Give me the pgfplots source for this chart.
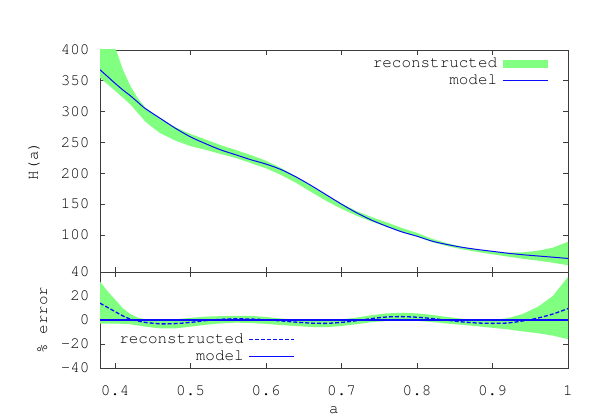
\documentclass[border=0pt]{standalone}
\usepackage{pgfplots}
\pgfplotsset{compat=1.18}
\usepackage{pgfplotstable}
\usepackage{fontspec}
\setmainfont{TeX Gyre Cursor}
\definecolor{bandgreen}{RGB}{128,255,128}
\definecolor{mblue}{RGB}{10,10,255}
\definecolor{frameclr}{RGB}{60,60,60}

\pgfplotstableread{
a M E
0.38 368 14
0.39 357 10.5
0.40 346 7
0.41 335.5 3.5
0.42 326 0.8
0.43 315.5 -0.8
0.44 305 -2
0.46 289 -3.2
0.48 273 -3
0.50 259 -2
0.52 248 -0.5
0.54 238 0.6
0.56 230 1
0.58 222 0.8
0.60 215 0.2
0.62 206 -0.8
0.64 194 -1.8
0.66 180 -2.6
0.68 165 -2.8
0.70 150 -2
0.72 136 -0.6
0.74 124 1.2
0.76 114 2.5
0.78 105 2.8
0.80 98 2.3
0.82 90 1.2
0.84 84.5 -0.2
0.86 80 -1.6
0.88 76.5 -2.5
0.90 73.5 -2.8
0.92 70.5 -2.5
0.94 68 -0.8
0.96 66 1.6
0.98 64 5
1.00 62 9.5
}\data

% top band: upper edge forward, lower edge backward
\pgfplotstableread{
a H
0.38 485.8
0.39 442.7
0.40 404.8
0.41 369.1
0.42 342.3
0.43 321.8
0.44 306.5
0.46 289.0
0.48 274.6
0.50 263.7
0.52 254.9
0.54 245.6
0.56 237.8
0.58 229.5
0.60 220.4
0.62 208.5
0.64 194.8
0.66 180.0
0.68 165.0
0.70 150.8
0.72 138.7
0.74 129.0
0.76 120.3
0.78 111.3
0.80 103.4
0.82 93.8
0.84 86.6
0.86 80.8
0.88 76.7
0.90 73.6
0.92 71.5
0.94 71.8
0.96 74.5
0.98 79.5
1.00 89.0
1.00 51.0
0.98 55.0
0.96 58.5
0.94 61.5
0.92 65.0
0.90 68.7
0.88 72.5
0.86 76.8
0.84 82.0
0.82 88.6
0.80 97.2
0.78 104.6
0.76 113.1
0.74 121.8
0.72 131.2
0.70 142.5
0.68 155.1
0.66 169.6
0.64 184.3
0.62 197.3
0.60 208.1
0.58 216.5
0.56 224.9
0.54 231.3
0.52 238.1
0.50 244.0
0.48 253.0
0.46 265.0
0.45 274.0
0.44 284.0
0.43 298.0
0.42 312.0
0.41 323.0
0.40 334.0
0.39 344.5
0.38 355.0
}\topband

% error band: upper edge forward, lower edge backward
\pgfplotstableread{
a E
0.38 32
0.39 24
0.40 17
0.41 10
0.42 5
0.43 2
0.44 0.5
0.46 0
0.48 0.6
0.50 1.8
0.52 2.8
0.54 3.2
0.56 3.4
0.58 3.4
0.60 2.5
0.62 1.2
0.64 0.4
0.66 0
0.68 0
0.70 0.5
0.72 2
0.74 4
0.76 5.5
0.78 6
0.80 5.5
0.82 4.2
0.84 2.5
0.86 1
0.88 0.3
0.90 0.2
0.92 1.5
0.94 5
0.96 11
0.98 20
1.00 36
1.00 -16
0.98 -13
0.96 -11
0.94 -9.5
0.92 -7.8
0.90 -6.5
0.88 -5.2
0.86 -4
0.84 -3
0.82 -1.6
0.80 -0.8
0.78 -0.4
0.76 -0.8
0.74 -1.8
0.72 -3.5
0.70 -5
0.68 -6
0.66 -5.8
0.64 -5
0.62 -4.2
0.60 -3.2
0.58 -2.5
0.56 -2.2
0.54 -2.8
0.52 -4
0.50 -5.5
0.48 -7
0.46 -7
0.44 -5.5
0.43 -4.5
0.42 -3.5
0.41 -3.2
0.40 -3
0.39 -3
0.38 -3
}\errband

\pgfplotsset{
  common/.style={
    scale only axis, width=468bp,
    xmin=0.38, xmax=1,
    xtick={0.4,0.5,0.6,0.7,0.8,0.9,1},
    tick align=inside, major tick length=5bp,
    axis line style={frameclr, line width=0.8bp},
    every tick/.style={frameclr, line width=0.8bp},
    /pgf/number format/assume math mode=true,
    legend plot pos=right, legend cell align=right,
    legend style={draw=none, fill=none, row sep=4bp,
      nodes={inner xsep=5bp, inner ysep=1bp}},
  },
}

\begin{document}
\begin{tikzpicture}[font=\fontsize{16}{19}\selectfont]
\path[use as bounding box] (0,0) rectangle (598bp,419bp);
\begin{axis}[common,
  at={(100bp,147bp)}, anchor=south west, height=222bp,
  ymin=40, ymax=400,
  ytick={40,100,150,200,250,300,350,400},
  yticklabels={40,100,150,200,250,300,350,400},
  xticklabels={},
  yticklabel style={xshift=-7bp},
  ylabel={H(a)},
  ylabel style={at={(axis description cs:-0.141,0.5)}, anchor=center},
  legend style={at={(0.9644,0.978)}, anchor=north east},
]
\addplot[fill=bandgreen, draw=none,
  legend image code/.code={\fill[bandgreen] (4bp,-4bp) rectangle (49bp,4bp);}]
  table[x=a,y=H]{\topband} -- cycle;
\addlegendentry{reconstructed}
\addplot[mblue, line width=1bp, smooth,
  legend image code/.code={\draw[mblue, line width=1bp] (4bp,0bp) -- (49bp,0bp);}]
  table[x=a,y=M]{\data};
\addlegendentry{model}
\end{axis}

\begin{axis}[common,
  at={(100bp,51bp)}, anchor=south west, height=96bp,
  ymin=-40, ymax=40,
  ytick={-40,-20,0,20,40},
  yticklabels={-40,-20,0,20,{}},
  xticklabels={0.4,0.5,0.6,0.7,0.8,0.9,1},
  yticklabel style={xshift=-7bp},
  xticklabel style={yshift=-14bp},
  ylabel={\% error},
  ylabel style={at={(axis description cs:-0.123,0.5)}, anchor=center},
  xlabel={a},
  xlabel style={at={(axis description cs:0.5,-0.44)}, anchor=center},
  legend style={at={(0.4235,0.39)}, anchor=north east},
]
\addplot[fill=bandgreen, draw=none, forget plot] table[x=a,y=E]{\errband} -- cycle;
\addplot[mblue, line width=1.3bp, dash pattern=on 4bp off 2bp, smooth,
  legend image code/.code={\draw[mblue, line width=1.3bp, dash pattern=on 4bp off 2bp] (4bp,0bp) -- (49bp,0bp);}]
  table[x=a,y=E]{\data};
\addlegendentry{reconstructed}
\addplot[mblue, line width=1.3bp,
  legend image code/.code={\draw[mblue, line width=1.3bp] (4bp,0bp) -- (49bp,0bp);}]
  coordinates {(0.38,0) (1,0)};
\addlegendentry{model}
\end{axis}
\end{tikzpicture}
\end{document}
